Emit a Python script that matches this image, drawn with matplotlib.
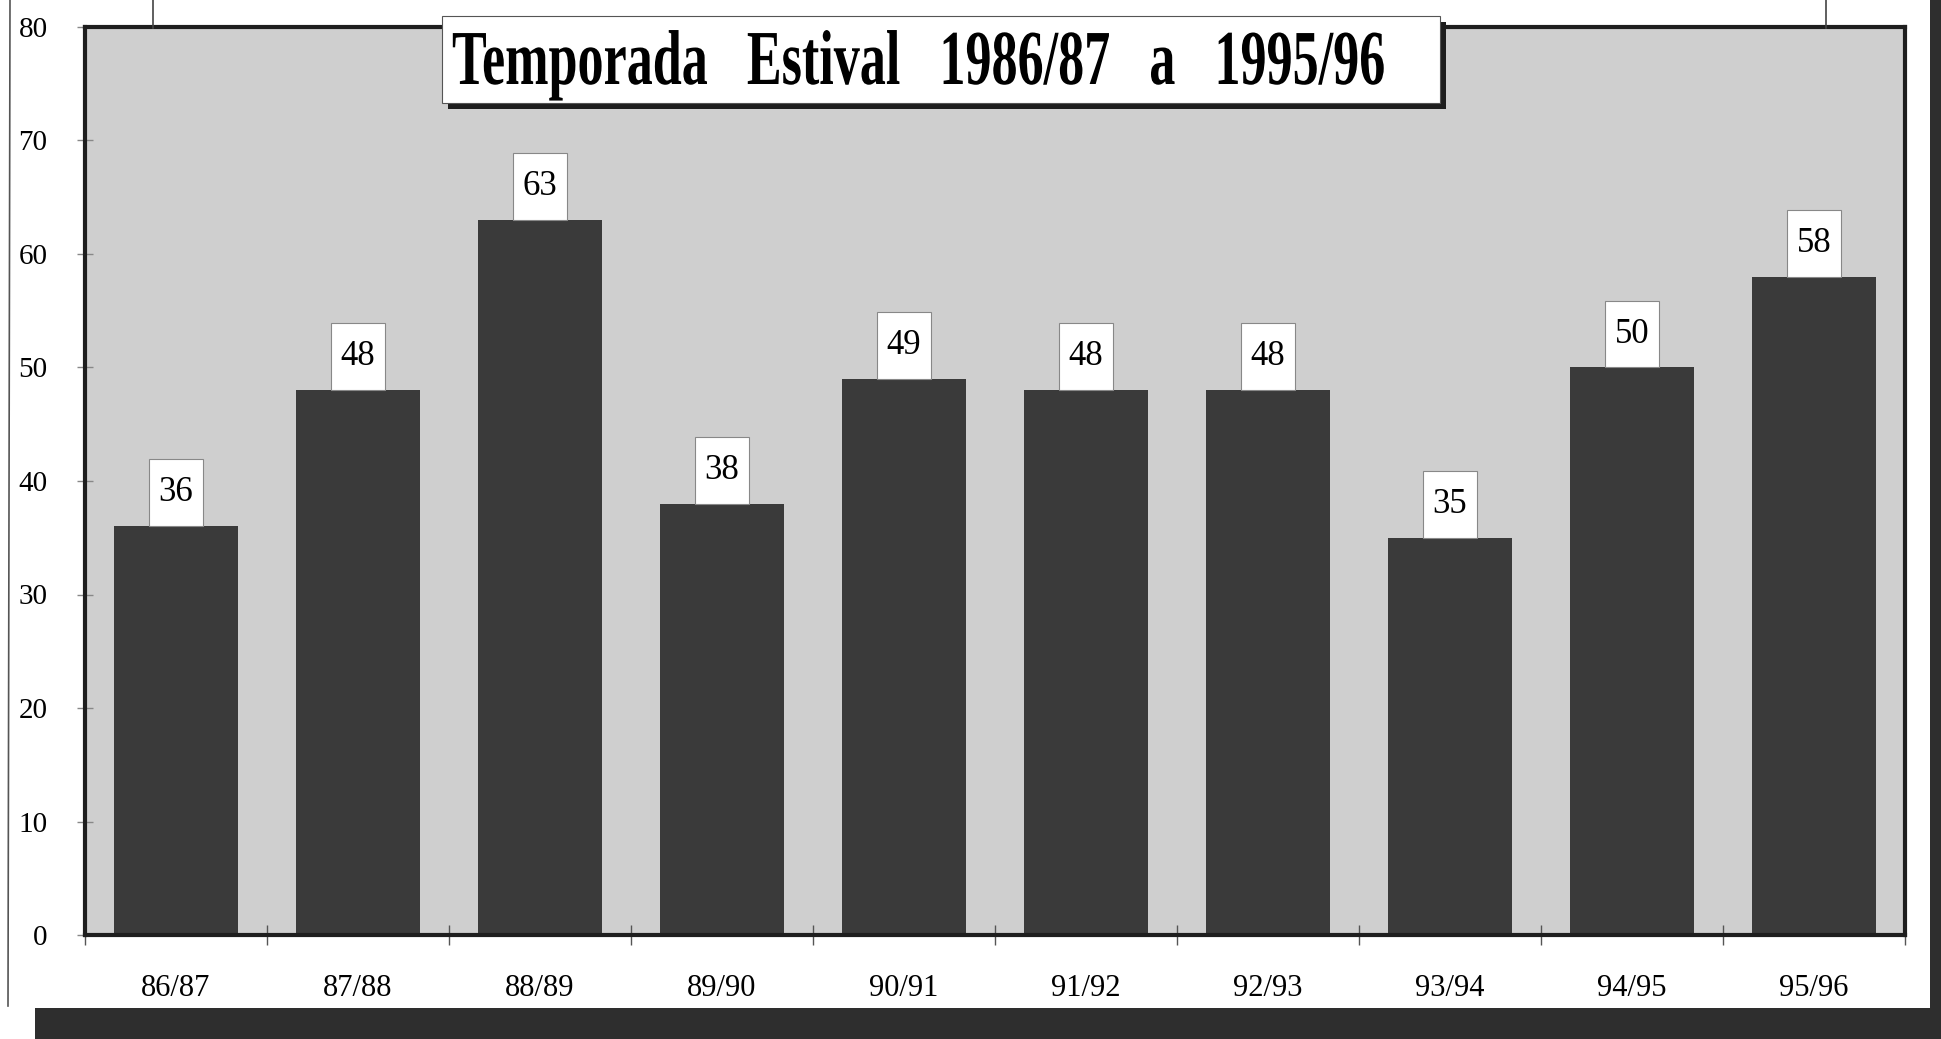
import matplotlib.pyplot as plt
from matplotlib import patheffects
from matplotlib.patches import Rectangle
from matplotlib.lines import Line2D
from matplotlib.transforms import Affine2D

seasons = ["86/87", "87/88", "88/89", "89/90", "90/91",
           "91/92", "92/93", "93/94", "94/95", "95/96"]
values = [36, 48, 63, 38, 49, 48, 48, 35, 50, 58]
y_ticks = [0, 10, 20, 30, 40, 50, 60, 70, 80]
title = "Temporada   Estival   1986/87   a   1995/96"

W, H = 1941, 1039


class Condensed(patheffects.AbstractPathEffect):
    # squeeze glyphs horizontally (from the left edge of the text)
    def __init__(self, sx):
        super().__init__()
        self.sx = sx

    def draw_path(self, renderer, gc, tpath, affine, rgbFace=None):
        renderer.draw_path(gc, tpath, Affine2D().scale(self.sx, 1) + affine, rgbFace)


def px(x, y):
    # figure pixel (top-left origin) -> figure fraction
    return x / W, 1 - y / H


plt.rcParams['font.family'] = ['Liberation Serif', 'DejaVu Serif']

fig = plt.figure(figsize=(W / 100, H / 100), dpi=100)
fig.patch.set_facecolor("white")

# scanned page frame and drop shadows
fig.add_artist(Rectangle(px(35, 1039), (W - 35) / W, 31 / H, transform=fig.transFigure,
                         facecolor="#2e2e2e", edgecolor="none"))
fig.add_artist(Rectangle(px(1930, 1039), 11 / W, 1, transform=fig.transFigure,
                         facecolor="#2e2e2e", edgecolor="none"))
fig.add_artist(Line2D([10 / W, 8 / W], [1, 1 - 1006 / H], transform=fig.transFigure,
                      color="#555555", lw=1.2))
for xx in [153, 1826]:
    fig.add_artist(Line2D([xx / W, xx / W], [1, 1 - 28 / H], transform=fig.transFigure,
                          color="#444444", lw=1.2))

left, right, top, bottom = 85, 1905, 27, 935
ax = fig.add_axes([left / W, 1 - bottom / H, (right - left) / W, (bottom - top) / H])
ax.set_facecolor("#cfcfcf")

x = list(range(len(seasons)))
bar_w = 0.68
ax.bar(x, values, width=bar_w, color="#3a3a3a", zorder=2)

# white value boxes sitting on the bars
box_w, box_h = 0.30, 5.9
for xi, v in zip(x, values):
    ax.add_patch(Rectangle((xi - box_w / 2, v), box_w, box_h, facecolor="white",
                           edgecolor="#888888", linewidth=0.8, zorder=3))
    ax.text(xi, v + box_h / 2, str(v), ha="center", va="center", fontsize=25,
            color="black", zorder=4)

ax.set_xlim(-0.5, len(seasons) - 0.5)
ax.set_ylim(0, 80)
ax.set_yticks(y_ticks)
ax.set_yticklabels([str(t) for t in y_ticks], fontsize=21)
ax.set_xticks(x)
ax.set_xticklabels(seasons, fontsize=22)
ax.set_xticks([i - 0.5 for i in range(len(seasons) + 1)], minor=True)

ax.tick_params(axis="x", which="major", length=0, pad=28)
ax.tick_params(axis="x", which="minor", direction="inout", length=14, width=1, color="#555555")
ax.tick_params(axis="y", direction="inout", length=12, width=1, color="#888888", pad=21)

for s in ax.spines.values():
    s.set_linewidth(3)
    s.set_color("#1e1e1e")

# title box with shadow
bx0, by0, bx1, by1 = 442, 16, 1440, 103
fig.add_artist(Rectangle(px(bx0 + 6, by1 + 6), (bx1 - bx0) / W, (by1 - by0) / H,
                         transform=fig.transFigure, facecolor="#1e1e1e", edgecolor="none", zorder=5))
fig.add_artist(Rectangle(px(bx0, by1), (bx1 - bx0) / W, (by1 - by0) / H,
                         transform=fig.transFigure, facecolor="white", edgecolor="#555555",
                         linewidth=0.8, zorder=6))
fig.text(*px(452, 84), title, fontsize=56, fontweight="bold", ha="left", va="baseline",
         zorder=7, path_effects=[Condensed(0.67)])

fig.savefig("out.png", dpi=100)
